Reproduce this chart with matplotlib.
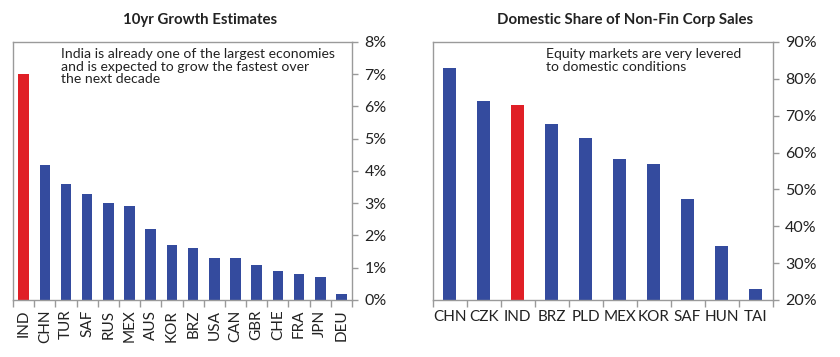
import matplotlib
matplotlib.use('Agg')
import matplotlib.pyplot as plt
import numpy as np

plt.rcParams['font.family'] = ['Lato', 'DejaVu Sans']

# 10yr growth estimates (%)
growth_labels = ['IND', 'CHN', 'TUR', 'SAF', 'RUS', 'MEX', 'AUS', 'KOR',
                 'BRZ', 'USA', 'CAN', 'GBR', 'CHE', 'FRA', 'JPN', 'DEU']
growth_values = [7.0, 4.2, 3.6, 3.3, 3.0, 2.9, 2.2, 1.7,
                 1.6, 1.3, 1.3, 1.1, 0.9, 0.8, 0.7, 0.2]

# domestic share of non-fin corp sales (%)
share_labels = ['CHN', 'CZK', 'IND', 'BRZ', 'PLD', 'MEX', 'KOR', 'SAF', 'HUN', 'TAI']
share_values = [83, 74, 73, 67.7, 64, 58.3, 57, 47.3, 34.7, 23]

BLUE = '#344b9e'
RED = '#e01f26'
GRAY = '#9a9a9a'
TEXT = '#222222'


def style_axes(ax, n):
    for s in ax.spines.values():
        s.set_color(GRAY)
        s.set_linewidth(1.0)
    ax.yaxis.tick_right()
    ax.tick_params(axis='y', which='major', direction='out', length=4,
                   width=1, color=GRAY, pad=5, labelsize=11.5, labelcolor=TEXT)
    ax.set_xlim(-0.5, n - 0.5)
    ax.set_xticks(np.arange(n + 1) - 0.5, minor=True)
    ax.tick_params(axis='x', which='minor', direction='out', length=5,
                   width=1, color=GRAY)
    ax.tick_params(axis='x', which='major', length=0, pad=7,
                   labelsize=11, labelcolor=TEXT)


fig = plt.figure(figsize=(8.4, 3.57), dpi=100)

# left panel
ax1 = fig.add_axes([0.0155, 0.1597, 0.4036, 0.7227])
x1 = np.arange(len(growth_labels))
colors1 = [RED if c == 'IND' else BLUE for c in growth_labels]
ax1.bar(x1, growth_values, width=0.5, color=colors1)
style_axes(ax1, len(growth_labels))
ax1.set_ylim(0, 8)
ax1.set_yticks(range(0, 9))
ax1.set_yticklabels([f'{v}%' for v in range(0, 9)])
ax1.set_xticks(x1)
ax1.set_xticklabels(growth_labels, rotation=90)
ax1.text(0.141, 0.975, 'India is already one of the largest economies\n'
         'and is expected to grow the fastest over\nthe next decade',
         transform=ax1.transAxes, ha='left', va='top', fontsize=10.1,
         linespacing=1.05, color=TEXT)
fig.text(200 / 840, 1 - 20 / 357, '10yr Growth Estimates', ha='center',
         va='center', fontsize=10.8, fontweight='bold', color=TEXT)

# right panel
ax2 = fig.add_axes([0.515, 0.1597, 0.4048, 0.7227])
x2 = np.arange(len(share_labels))
colors2 = [RED if c == 'IND' else BLUE for c in share_labels]
ax2.bar(x2, share_values, width=0.4, color=colors2)
style_axes(ax2, len(share_labels))
ax2.set_ylim(20, 90)
ax2.set_yticks(range(20, 91, 10))
ax2.set_yticklabels([f'{v}%' for v in range(20, 91, 10)])
ax2.set_xticks(x2)
ax2.set_xticklabels(share_labels)
ax2.text(0.333, 0.975, 'Equity markets are very levered\nto domestic conditions',
         transform=ax2.transAxes, ha='left', va='top', fontsize=10.1,
         linespacing=1.05, color=TEXT)
fig.text(625 / 840, 1 - 20 / 357, 'Domestic Share of Non-Fin Corp Sales',
         ha='center', va='center', fontsize=10.8, fontweight='bold', color=TEXT)

fig.savefig('out.png', dpi=100)
plt.close(fig)
